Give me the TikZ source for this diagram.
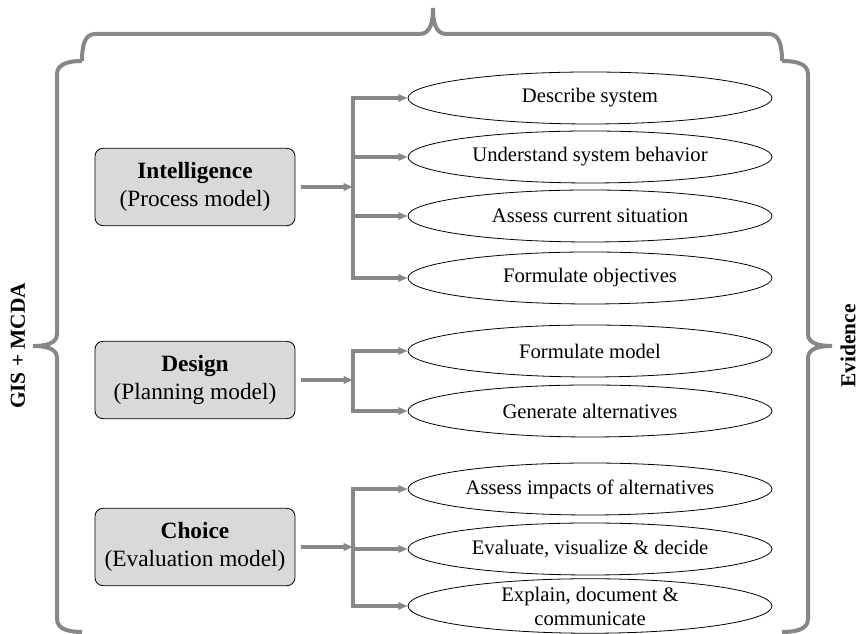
\documentclass[tikz,border=0pt]{standalone}
\usepackage{fontspec}
\setmainfont{Liberation Serif}
\usepackage{tikz}
\usetikzlibrary{arrows.meta, positioning, calc, shapes.geometric}
\definecolor{linegray}{HTML}{878787}
\definecolor{boxgray}{HTML}{D9D9D9}
\tikzset{
    phasebox/.style={rectangle, draw=black, fill=boxgray, rounded corners=6pt, minimum width=150pt, minimum height=58pt, align=center, line width=0.6pt, font=\fontsize{17.5}{21}\selectfont},
    task/.style={ellipse, draw=black, minimum width=273pt, minimum height=39pt, inner sep=0pt, align=center, line width=0.6pt, font=\fontsize{15.5}{15.5}\selectfont},
    arrow/.style={-{Triangle[length=7pt, width=5.5pt]}, line width=2.3pt, draw=linegray},
    bracepath/.style={line width=3pt, draw=linegray},
    sidelabel/.style={rotate=90, font=\fontsize{16}{16}\selectfont\bfseries}
}

\begin{document}
\begin{tikzpicture}[x=0.75pt, y=0.75pt]
        \useasboundingbox (0,0) rectangle (858,634);
        \draw[bracepath] (82,573) to[out=90,in=180] (95,600) -- (420,600) to[out=0,in=-90] (433,626)
            to[out=-90,in=180] (446,600) -- (769,600) to[out=0,in=90] (782,573);
        \draw[bracepath] (82,573) to[out=180,in=90] (57,560) -- (57,300) to[out=-90,in=0] (33,288)
            to[out=0,in=90] (57,276) -- (57,15) to[out=-90,in=180] (82,2);
        \draw[bracepath] (782,573) to[out=0,in=90] (808,560) -- (808,300) to[out=-90,in=180] (832,288)
            to[out=180,in=90] (808,276) -- (808,15) to[out=-90,in=0] (782,2);
        \node[sidelabel] (gis) at (18,288) {GIS + MCDA};
        \node[sidelabel] (evidence) at (848,288) {Evidence};
        \node[phasebox] (intel) at (195,447) {\textbf{Intelligence}\\(Process model)};
        \node[phasebox] (design) at (195,254) {\textbf{Design}\\(Planning model)};
        \node[phasebox] (choice) at (195,87) {\textbf{Choice}\\(Evaluation model)};
        \node[task] (describe) at (590,536) {Describe system};
        \node[task] (understand) at (590,477) {Understand system behavior};
        \node[task] (assess) at (590,418) {Assess current situation};
        \node[task] (objectives) at (590,356) {Formulate objectives};
        \node[task] (model) at (590,283) {Formulate model};
        \node[task] (generate) at (590,223) {Generate alternatives};
        \node[task] (impacts) at (590,145) {Assess impacts of alternatives};
        \node[task] (evaluate) at (590,85) {Evaluate, visualize \& decide};
        \node[task, font=\fontsize{15.5}{18}\selectfont] (explain) at (590,28) {Explain, document \&\\communicate};
        \coordinate (jIntel) at (353,447);
        \coordinate (jDesign) at (353,254);
        \coordinate (jChoice) at (353,87);
        \draw[arrow, shorten <=4.5pt] (intel) -- (jIntel);
        \draw[arrow, shorten <=4.5pt] (design) -- (jDesign);
        \draw[arrow, shorten <=4.5pt] (choice) -- (jChoice);
        \foreach \t in {describe, understand, assess, objectives}
            \draw[arrow] (jIntel) |- (\t);
        \foreach \t in {model, generate}
            \draw[arrow] (jDesign) |- (\t);
        \foreach \t in {impacts, evaluate, explain}
            \draw[arrow] (jChoice) |- (\t);
    \end{tikzpicture}
\end{document}
